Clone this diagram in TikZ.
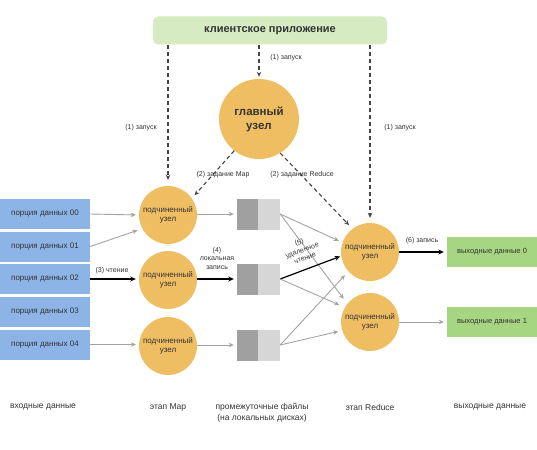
\documentclass[tikz,border=0pt]{standalone}
\usepackage{fontspec}
\setmainfont{Liberation Sans}
\usetikzlibrary{arrows.meta}
\definecolor{nodeor}{HTML}{F0BE62}
\definecolor{inblue}{HTML}{8DB4E6}
\definecolor{clgreen}{HTML}{D6EBC1}
\definecolor{outgreen}{HTML}{A6D682}
\definecolor{arrgray}{HTML}{A3A3A3}
\definecolor{filedark}{HTML}{A0A0A0}
\definecolor{filelight}{HTML}{D6D6D6}
\definecolor{txt}{HTML}{333333}
\definecolor{dashc}{HTML}{444444}
\begin{document}
\begin{tikzpicture}[x=1pt,y=-1pt,
  circ/.style={circle, fill=nodeor, minimum size=58pt, inner sep=0pt, align=center, text=txt, font=\fontsize{8}{9.5}\selectfont},
  bigcirc/.style={circle, fill=nodeor, minimum size=80pt, inner sep=0pt, align=center, text=txt, font=\bfseries\fontsize{11.5}{14}\selectfont},
  inbox/.style={rectangle, fill=inblue, minimum width=90pt, minimum height=30pt, inner sep=0pt, text=txt, font=\fontsize{8}{9.5}\selectfont},
  outbox/.style={rectangle, fill=outgreen, minimum width=90pt, minimum height=30pt, inner sep=0pt, text=txt, font=\fontsize{7.5}{9}\selectfont},
  filebox/.style={rectangle, fill=filelight, minimum width=43pt, minimum height=31pt, inner sep=0pt,
     path picture={\fill[filedark] (path picture bounding box.north west) rectangle ([xshift=-0.5pt]path picture bounding box.south);}},
  lbl/.style={text=txt, font=\fontsize{7}{8.5}\selectfont, inner sep=0pt, align=center},
  bot/.style={text=txt, font=\fontsize{8.5}{11}\selectfont, inner sep=0pt, align=center},
  garrow/.style={draw=arrgray, line width=0.9pt, -{Stealth[length=5pt,width=4.5pt]}, shorten >=3pt},
  barrow/.style={draw=black, line width=1.2pt, -{Stealth[length=5.5pt,width=5pt]}, shorten >=3pt},
  darrow/.style={draw=dashc, line width=1.1pt, dash pattern=on 4pt off 3pt, -{Stealth[length=5pt,width=4.5pt]}}
]
\useasboundingbox (0,0) rectangle (537,449);

% client
\node[rectangle, rounded corners=5pt, fill=clgreen, minimum width=234pt, minimum height=28pt, inner sep=0pt,
      text=txt, font=\bfseries\fontsize{11}{13}\selectfont] (client) at (270,30.5) {клиентское приложение};

% master
\node[bigcirc] (master) at (259,119) {главный\\узел};

% inputs
\node[inbox] (in0) at (45,214) {порция данных 00};
\node[inbox] (in1) at (45,246.5) {порция данных 01};
\node[inbox] (in2) at (45,279) {порция данных 02};
\node[inbox] (in3) at (45,311.5) {порция данных 03};
\node[inbox] (in4) at (45,344.5) {порция данных 04};

% mappers
\node[circ] (m1) at (168,215) {подчиненный\\узел};
\node[circ] (m2) at (168,280) {подчиненный\\узел};
\node[circ] (m3) at (168,346) {подчиненный\\узел};

% files
\node[filebox] (f1) at (258.5,214) {};
\node[filebox] (f2) at (258.5,279) {};
\node[filebox] (f3) at (258.5,345) {};

% reducers
\node[circ] (r1) at (370,252) {подчиненный\\узел};
\node[circ] (r2) at (370,322) {подчиненный\\узел};

% outputs
\node[outbox] (o0) at (492,252) {выходные данные 0};
\node[outbox] (o1) at (492,322) {выходные данные 1};

% dashed launches
\draw[darrow, shorten >=2pt] (client.south -| master) -- (master.north);
\draw[darrow, shorten >=6pt] (client.south -| m1) -- (m1.north);
\draw[darrow, shorten >=5pt] (client.south -| r1) -- (r1.north);
\draw[darrow, shorten >=4pt] (master.232) -- (m1.35);
\draw[darrow, shorten >=5pt] (master.-58) -- (r1.127);

\node[lbl] (l1a) at (286,58) {(1) запуск};
\node[lbl] (l1b) at (141,128) {(1) запуск};
\node[lbl] (l1c) at (400,128) {(1) запуск};
\node[lbl] (l2a) at (223,175) {(2) задание Map};
\node[lbl] (l2b) at (302,175) {(2) задание Reduce};

% inputs -> mappers
\draw[garrow] (in0.east) -- (m1.west);
\draw[garrow, shorten >=5pt] (in1.east) -- (m1.208);
\draw[barrow] (in2.east) -- (m2.west |- in2.east);
\draw[garrow] (in4.east) -- (m3.west |- in4.east);
\node[lbl] (l3) at (112,271) {(3) чтение};

% mappers -> files
\draw[garrow] (m1.east |- f1.west) -- (f1.west);
\draw[barrow] (m2.east |- f2.west) -- (f2.west);
\draw[garrow] (m3.east |- f3.west) -- (f3.west);
\node[lbl] (l4) at (217,258) {(4)\\локальная\\запись};

% files -> reducers
\draw[garrow, shorten >=4pt] (f1.east) -- (r1.161);
\draw[garrow, shorten >=6pt] (f1.east) -- (r2.141);
\draw[barrow, shorten >=1pt] (f2.east) -- (r1.188);
\draw[garrow, shorten >=6pt] (f2.east) -- (r2.150);
\draw[garrow, shorten >=5pt] (f3.east) -- (r1.222);
\draw[garrow, shorten >=4pt] (f3.east) -- (r2.197);
\node[lbl, rotate=20] (l5) at (302,250) {(5)\\удаленное\\чтение};

% reducers -> outputs
\draw[barrow] (r1.east) -- (o0.west);
\draw[garrow] (r2.east) -- (o1.west);
\node[lbl] (l6) at (422,241) {(6) запись};

% bottom labels
\node[bot] (b1) at (43,407) {входные данные};
\node[bot] (b2) at (168,407) {этап Map};
\node[bot] (b3) at (262,413) {промежуточные файлы\\(на локальных дисках)};
\node[bot] (b4) at (370,407) {этап Reduce};
\node[bot] (b5) at (490,407) {выходные данные};
\end{tikzpicture}
\end{document}
